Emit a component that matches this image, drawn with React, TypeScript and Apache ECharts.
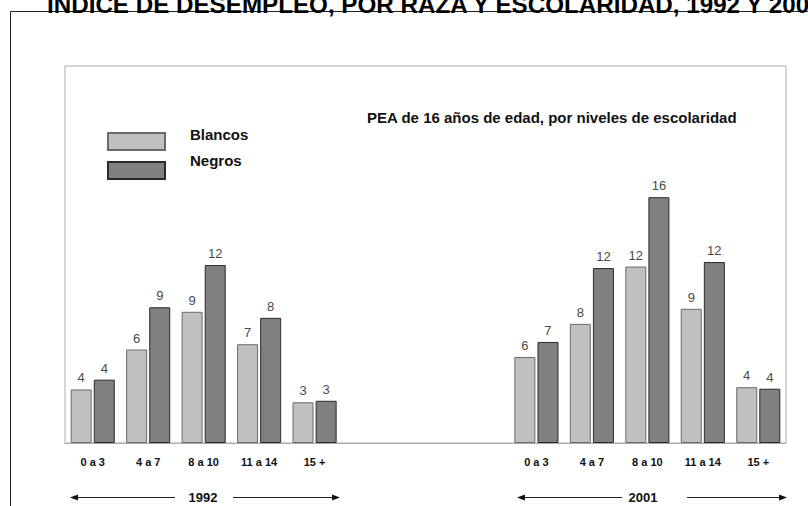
import React, { useEffect, useRef } from 'react';
import * as echarts from 'echarts';

const titleText = 'INDICE DE DESEMPLEO, POR RAZA Y ESCOLARIDAD, 1992 Y 2001';
const subtitleText = 'PEA de 16 años de edad, por niveles de escolaridad';
const levels = ['0 a 3', '4 a 7', '8 a 10', '11 a 14', '15 +'];
const years = ['1992', '2001'];
const seriesNames = ['Blancos', 'Negros'];
const blancos1992 = [3.55, 6.2, 8.7, 6.55, 2.7];
const negros1992 = [4.2, 9.0, 11.8, 8.3, 2.8];
const blancos2001 = [5.7, 7.9, 11.7, 8.9, 3.7];
const negros2001 = [6.7, 11.6, 16.3, 12.0, 3.6];
const gapSlots = ['', '', ''];

const FONT = '"Liberation Sans", Arial, Helvetica, sans-serif';

export default function App() {
  const ref = useRef<HTMLDivElement>(null);

  useEffect(() => {
    if (!ref.current) return;
    const chart = echarts.init(ref.current, undefined, { renderer: 'svg' });

    const categories = [...levels, ...gapSlots, ...levels];
    const gapData = gapSlots.map(() => '-');
    const blancos = [...blancos1992, ...gapData, ...blancos2001];
    const negros = [...negros1992, ...gapData, ...negros2001];

    const arrowY = 497;
    const yearGroups = [
      { year: years[0], cx: 203, l1: 70, l2: 175, r1: 233, r2: 340 },
      { year: years[1], cx: 643, l1: 517, l2: 622, r1: 687, r2: 787 },
    ];
    const arrowEls: any[] = [];
    yearGroups.forEach((g) => {
      arrowEls.push(
        {
          type: 'text',
          x: g.cx,
          y: arrowY,
          style: {
            text: g.year,
            font: `bold 13px ${FONT}`,
            fill: '#111',
            align: 'center',
            verticalAlign: 'middle',
          },
        },
        {
          type: 'line',
          shape: { x1: g.l1 + 6, y1: arrowY + 0.5, x2: g.l2, y2: arrowY + 0.5 },
          style: { stroke: '#222', lineWidth: 1 },
        },
        {
          type: 'polygon',
          shape: { points: [[g.l1, arrowY + 0.5], [g.l1 + 8, arrowY - 2.5], [g.l1 + 8, arrowY + 3.5]] },
          style: { fill: '#111' },
        },
        {
          type: 'line',
          shape: { x1: g.r1, y1: arrowY + 0.5, x2: g.r2 - 6, y2: arrowY + 0.5 },
          style: { stroke: '#222', lineWidth: 1 },
        },
        {
          type: 'polygon',
          shape: { points: [[g.r2, arrowY + 0.5], [g.r2 - 8, arrowY - 2.5], [g.r2 - 8, arrowY + 3.5]] },
          style: { fill: '#111' },
        }
      );
    });

    const legendBase = {
      orient: 'vertical',
      left: 107,
      padding: 0,
      itemWidth: 57,
      itemHeight: 17,
      icon: 'rect',
      selectedMode: false,
      formatter: (name: string) => `{t|${name}}`,
    };
    const legendRich = (lift: number) => ({
      padding: [0, 0, 0, 20],
      rich: {
        t: {
          fontFamily: FONT,
          fontWeight: 'bold',
          fontSize: 15,
          color: '#111',
          padding: [0, 0, lift, 0],
        },
      },
    });

    chart.setOption({
      animation: false,
      backgroundColor: '#fff',
      grid: {
        left: 65,
        right: 22,
        top: 66,
        bottom: 63,
        show: true,
        borderColor: '#aaaaaa',
        borderWidth: 1,
        backgroundColor: 'transparent',
      },
      legend: [
        {
          ...legendBase,
          data: [seriesNames[0]],
          top: 127,
          textStyle: legendRich(14),
        },
        {
          ...legendBase,
          data: [seriesNames[1]],
          top: 153,
          textStyle: legendRich(20),
        },
      ],
      xAxis: {
        type: 'category',
        data: categories,
        axisLine: { show: true, lineStyle: { color: '#aaaaaa', width: 1 } },
        axisTick: { show: false },
        axisLabel: {
          interval: 0,
          margin: 13,
          fontFamily: FONT,
          fontWeight: 'bold',
          fontSize: 11,
          color: '#111',
        },
        splitLine: { show: false },
      },
      yAxis: {
        type: 'value',
        min: 0,
        max: 25,
        show: false,
        splitLine: { show: false },
      },
      series: [
        {
          name: seriesNames[0],
          type: 'bar',
          data: blancos,
          barWidth: 21,
          barGap: '10%',
          itemStyle: { color: '#c0c0c0', borderColor: '#6a6a6a', borderWidth: 1 },
          label: {
            show: true,
            position: 'top',
            distance: 5,
            fontFamily: FONT,
            fontSize: 13,
            color: '#4a4a4a',
            formatter: (p: any) => String(Math.round(p.value)),
          },
        },
        {
          name: seriesNames[1],
          type: 'bar',
          data: negros,
          barWidth: 21,
          barGap: '10%',
          itemStyle: { color: '#808080', borderColor: '#2a2a2a', borderWidth: 1 },
          label: {
            show: true,
            position: 'top',
            distance: 5,
            fontFamily: FONT,
            fontSize: 13,
            color: '#4a4a4a',
            formatter: (p: any) => String(Math.round(p.value)),
          },
        },
      ],
      graphic: [
        {
          type: 'rect',
          shape: { x: 10.5, y: 11.5, width: 1000, height: 1000 },
          style: { fill: 'none', stroke: '#222', lineWidth: 1 },
          silent: true,
        },
        {
          type: 'text',
          x: 47,
          y: 4,
          style: {
            text: titleText,
            font: `bold 24.2px ${FONT}`,
            fill: '#000',
            align: 'left',
            verticalAlign: 'middle',
          },
        },
        {
          type: 'text',
          x: 367,
          y: 117.5,
          style: {
            text: subtitleText,
            font: `bold 15px ${FONT}`,
            fill: '#111',
            align: 'left',
            verticalAlign: 'middle',
          },
        },
        ...arrowEls,
      ],
    });

    return () => chart.dispose();
  }, []);

  return (
    <div
      ref={ref}
      style={{ position: 'absolute', left: 0, top: 0, width: 808, height: 506 }}
    />
  );
}
